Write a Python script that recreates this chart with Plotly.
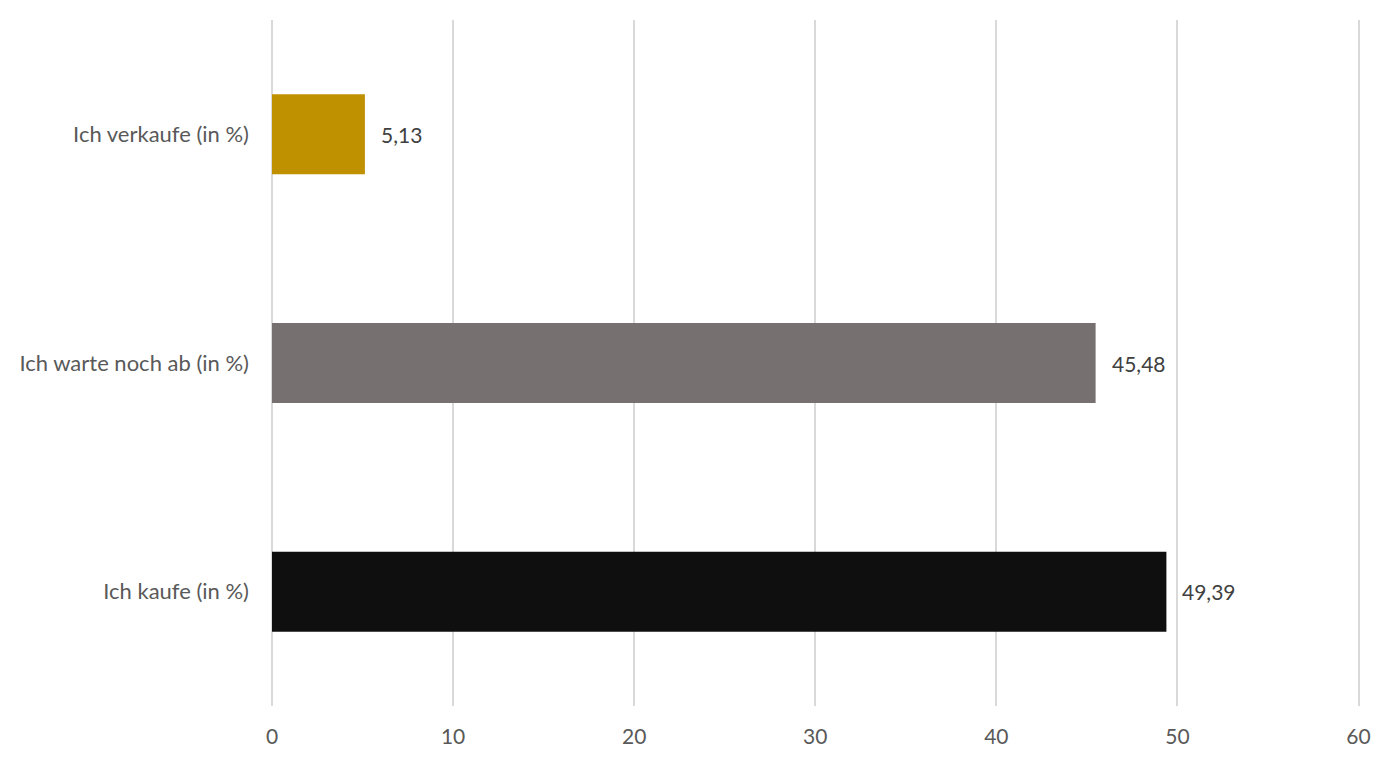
import plotly.graph_objects as go

categories = ["Ich kaufe (in %)", "Ich warte noch ab (in %)", "Ich verkaufe (in %)"]
values = [49.39, 45.48, 5.13]
bar_colors = ["#0f0f0f", "#767071", "#bf9000"]
x_ticks = [0, 10, 20, 30, 40, 50, 60]

FONT = "Lato, 'Open Sans', sans-serif"

fig = go.Figure(
    go.Bar(
        x=values,
        y=categories,
        orientation="h",
        marker=dict(color=bar_colors, line=dict(width=0)),
        hoverinfo="skip",
    )
)

# value labels, German decimal comma
for cat, val in zip(categories, values):
    fig.add_annotation(
        x=val, y=cat, text=f"{val:.2f}".replace(".", ","),
        xanchor="left", yanchor="middle", xshift=14, showarrow=False,
        font=dict(family=FONT, size=21, color="#404040"),
    )

fig.update_layout(
    width=1397,
    height=759,
    margin=dict(l=264, r=45, t=12, b=61),
    plot_bgcolor="white",
    paper_bgcolor="white",
    bargap=0.65,
    showlegend=False,
    separators=",.",
    font=dict(family=FONT, size=21, color="#595959"),
)
fig.update_xaxes(
    range=[0, 60.08],
    tickvals=x_ticks,
    showgrid=True,
    gridcolor="#d9d9d9",
    gridwidth=1.5,
    zeroline=True,
    zerolinecolor="#d9d9d9",
    zerolinewidth=1.5,
    showline=False,
    ticklabelstandoff=16,
    tickfont=dict(family=FONT, size=21, color="#595959"),
)
fig.update_yaxes(
    showgrid=False,
    zeroline=False,
    showline=False,
    ticklabelstandoff=22,
    tickfont=dict(family=FONT, size=22, color="#595959"),
)

fig.write_html("out.html")
